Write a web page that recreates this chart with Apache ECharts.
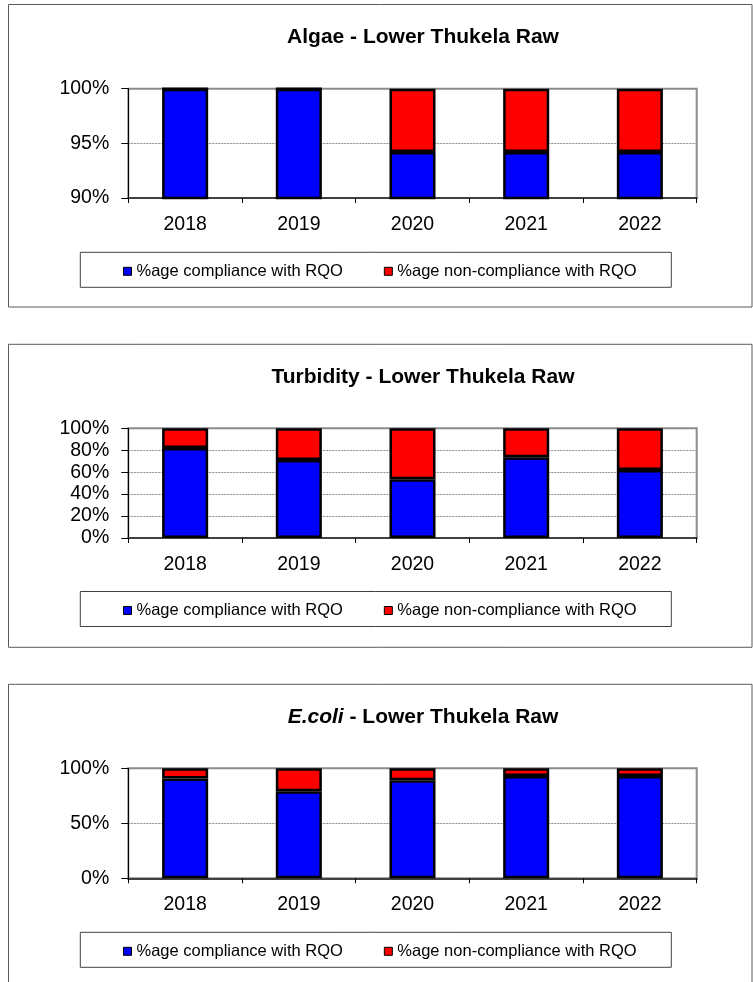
<!DOCTYPE html>
<html>
<head>
<meta charset="utf-8">
<title>Lower Thukela Raw</title>
<script src="https://cdn.jsdelivr.net/npm/echarts@6/dist/echarts.min.js"></script>
<style>
  html, body { margin: 0; padding: 0; background: #fff; }
  #chart { width: 753px; height: 982px; }
</style>
</head>
<body>
<div id="chart"></div>
<script>
// 数据
const years = ['2018', '2019', '2020', '2021', '2022'];
const algaeCompliance = [100, 100, 94.2, 94.2, 94.2];
const algaeNonCompliance = [0, 0, 5.8, 5.8, 5.8];
const turbidityCompliance = [82.1, 71.1, 53.6, 73.5, 62.1];
const turbidityNonCompliance = [17.9, 28.9, 46.4, 26.5, 37.9];
const ecoliCompliance = [90.7, 79.1, 89.2, 92.9, 92.9];
const ecoliNonCompliance = [9.3, 20.9, 10.8, 7.1, 7.1];
const legendNames = ['%age compliance with RQO', '%age non-compliance with RQO'];

const FONT = 'Arial, "Liberation Sans", sans-serif';

// 三个面板的位置
const panels = [
  { top: 4.5, bottom: 307, gridTop: 88.7, gridH: 109.3, min: 90, interval: 5,
    title: '{b|Algae - Lower Thukela Raw}', legendY: 269.8,
    comp: algaeCompliance, non: algaeNonCompliance },
  { top: 344.3, bottom: 647.3, gridTop: 428.3, gridH: 109.7, min: 0, interval: 20,
    title: '{b|Turbidity - Lower Thukela Raw}', legendY: 609,
    comp: turbidityCompliance, non: turbidityNonCompliance },
  { top: 684.3, bottom: 1000, gridTop: 768.3, gridH: 110, min: 0, interval: 50,
    title: '{i|E.coli}{b| - Lower Thukela Raw}', legendY: 949.8,
    comp: ecoliCompliance, non: ecoliNonCompliance }
];

const grid = [], xAxis = [], yAxis = [], series = [], legend = [], graphic = [];

panels.forEach((p, i) => {
  // 外框
  graphic.push({
    type: 'rect', silent: true, z: -10,
    shape: { x: 8.5, y: p.top, width: 743.5, height: p.bottom - p.top },
    style: { fill: '#fff', stroke: '#5a5a5a', lineWidth: 1 }
  });
  // 标题
  graphic.push({
    type: 'text', silent: true,
    style: {
      x: 423, y: p.top + 32.5, text: p.title,
      textAlign: 'center', textVerticalAlign: 'middle',
      rich: {
        b: { fontFamily: FONT, fontWeight: 'bold', fontSize: 21, fill: '#000' },
        i: { fontFamily: FONT, fontWeight: 'bold', fontStyle: 'italic', fontSize: 21, fill: '#000' }
      }
    }
  });
  // 图例框
  graphic.push({
    type: 'rect', silent: true, z: -5,
    shape: { x: 80.3, y: p.legendY - 17.5, width: 591, height: 35 },
    style: { fill: '#fff', stroke: '#404040', lineWidth: 1 }
  });

  grid.push({
    left: 128.3, top: p.gridTop, width: 568.4, height: p.gridH,
    show: true, borderColor: '#8c8c8c', borderWidth: 2, backgroundColor: '#fff'
  });
  xAxis.push({
    type: 'category', gridIndex: i, data: years,
    axisLine: { lineStyle: { color: '#404040', width: 2 } },
    axisTick: { show: true, length: 5, lineStyle: { color: '#000', width: 1 } },
    axisLabel: { color: '#000', fontFamily: FONT, fontSize: 19.5, margin: 16.5 }
  });
  yAxis.push({
    type: 'value', gridIndex: i, min: p.min, max: 100, interval: p.interval,
    axisLine: { show: true, lineStyle: { color: '#000', width: 1 } },
    axisTick: { show: true, length: 7, lineStyle: { color: '#000', width: 1 } },
    axisLabel: {
      color: '#000', fontFamily: FONT, fontSize: 19.5, margin: 19,
      padding: [4, 0, 0, 0], formatter: '{value}%'
    },
    splitLine: { show: true, lineStyle: { color: '#8c8c8c', width: 1, type: [2, 1] } }
  });
  series.push({
    name: legendNames[0], type: 'bar', stack: 's' + i,
    xAxisIndex: i, yAxisIndex: i, barWidth: '40.5%', clip: true,
    itemStyle: { color: '#0000ff', borderColor: '#000', borderWidth: 2.5 },
    data: p.comp
  });
  series.push({
    name: legendNames[1], type: 'bar', stack: 's' + i,
    xAxisIndex: i, yAxisIndex: i, barWidth: '40.5%', clip: true,
    itemStyle: { color: '#ff0000', borderColor: '#000', borderWidth: 2.5 },
    data: p.non
  });
  legend.push({
    data: legendNames, left: 123, top: p.legendY - 7, padding: 0,
    itemGap: 41, itemWidth: 8, itemHeight: 8, icon: 'rect',
    itemStyle: { borderColor: '#000', borderWidth: 1 },
    textStyle: { color: '#000', fontFamily: FONT, fontSize: 16.5 },
    selectedMode: false
  });
});

const chart = echarts.init(document.getElementById('chart'), null, { renderer: 'canvas' });
chart.setOption({
  animation: false,
  backgroundColor: '#fff',
  graphic: graphic,
  grid: grid,
  xAxis: xAxis,
  yAxis: yAxis,
  legend: legend,
  series: series
});
</script>
</body>
</html>
